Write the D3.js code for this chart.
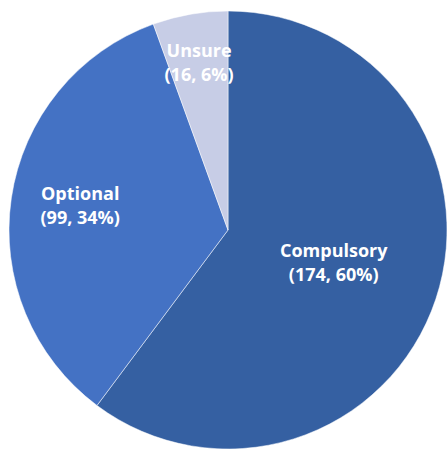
<!DOCTYPE html>
<html>
<head>
<meta charset="utf-8">
<script src="https://cdn.jsdelivr.net/npm/d3@7"></script>
<style>
  html, body { margin: 0; padding: 0; background: #fff; }
  svg { display: block; }
</style>
</head>
<body>
<svg id="chart" width="447" height="450"></svg>
<script>
// Survey answers, drawn clockwise from 12 o'clock
const categories = ["Compulsory", "Optional", "Unsure"];
const counts = [174, 99, 16];
const percents = [60, 34, 6];
const colors = ["#3560A2", "#4472C4", "#C7CDE6"];

const width = 447, height = 450;
const cx = 228, cy = 230, radius = 219;

const svg = d3.select("#chart");
const g = svg.append("g").attr("transform", `translate(${cx},${cy})`);

const data = categories.map((c, i) => ({ name: c, count: counts[i], pct: percents[i], color: colors[i] }));
const total = d3.sum(counts);

const pie = d3.pie().sort(null).value(d => d.count);
const arcs = pie(data);

const arc = d3.arc().innerRadius(0).outerRadius(radius);

g.selectAll("path.slice")
  .data(arcs)
  .join("path")
  .attr("class", "slice")
  .attr("d", arc)
  .attr("fill", d => d.data.color)
  .attr("stroke", "#ffffff")
  .attr("stroke-width", 1)
  .attr("stroke-opacity", 0.5);

// Bigger slices keep their label nearer the centre
const labelRadius = d3.scaleLinear().domain([0, 0.35, 0.6]).range([0.78, 0.68, 0.51]);

const labels = g.selectAll("g.label")
  .data(arcs)
  .join("g")
  .attr("class", "label")
  .attr("transform", d => {
    const r = radius * labelRadius(d.data.count / total);
    const a = (d.startAngle + d.endAngle) / 2;
    return `translate(${r * Math.sin(a)},${-r * Math.cos(a)})`;
  });

const text = labels.append("text")
  .attr("text-anchor", "middle")
  .attr("fill", "#ffffff")
  .style("font-family", "'Open Sans', Lato, sans-serif")
  .style("font-weight", "bold")
  .style("font-size", "18px");

text.append("tspan").attr("x", 0).attr("y", -8).text(d => d.data.name);
text.append("tspan").attr("x", 0).attr("y", 16).text(d => `(${d.data.count}, ${d.data.pct}%)`);
</script>
</body>
</html>
